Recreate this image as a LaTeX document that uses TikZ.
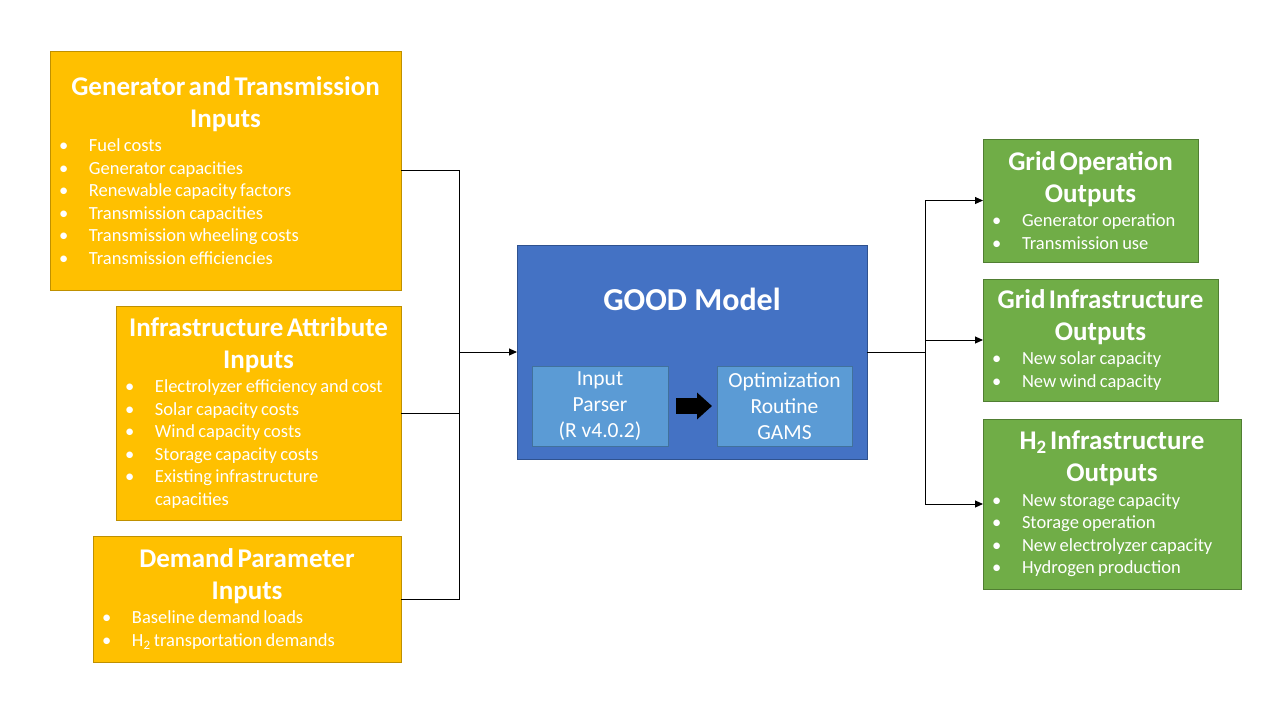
\documentclass[tikz,border=0pt]{standalone}
\usepackage{fontspec}
\setmainfont{Carlito}
\usetikzlibrary{arrows.meta,positioning}

\definecolor{inyellow}{HTML}{FFC000}
\definecolor{inborder}{HTML}{BF9000}
\definecolor{modelblue}{HTML}{4472C4}
\definecolor{modelborder}{HTML}{2F528F}
\definecolor{partblue}{HTML}{5B9BD5}
\definecolor{partborder}{HTML}{41719C}
\definecolor{outgreen}{HTML}{70AD47}
\definecolor{outborder}{HTML}{507E32}

% box heading and bullet lines
\newcommand{\boxhead}[1]{{\centering\fontsize{27}{32}\selectfont\bfseries #1\par}\vspace{2pt}}
\newcommand{\bitem}[1]{{\fontsize{18.5}{22.5}\selectfont\hangindent=30pt\hangafter=1\noindent\makebox[30pt][l]{\textbullet}#1\par}}

\begin{document}
\begin{tikzpicture}[x=1pt,y=-1pt,
    inbox/.style={draw=inborder,fill=inyellow,line width=1pt,text=white,inner xsep=9pt,inner ysep=4pt,outer sep=0pt,anchor=north west,align=left},
    outbox/.style={inbox,draw=outborder,fill=outgreen},
    partbox/.style={draw=partborder,fill=partblue,line width=1pt,text=white,outer sep=0pt,anchor=north west,align=center,font=\fontsize{21.5}{26}\selectfont},
    conn/.style={line width=1pt},
    arr/.style={conn,-{Triangle[length=8pt,width=7pt]}}]
  \useasboundingbox (0,0) rectangle (1280,720);
  % inputs
  \node[inbox,minimum width=351pt,minimum height=239pt,text width=333pt] (gen) at (50,51) {%
    \boxhead{Generator and Transmission\\Inputs}%
    \bitem{Fuel costs}\bitem{Generator capacities}\bitem{Renewable capacity factors}%
    \bitem{Transmission capacities}\bitem{Transmission wheeling costs}\bitem{Transmission efficiencies}};
  \node[inbox,minimum width=285pt,minimum height=214pt,text width=267pt] (infra) at (116,306) {%
    \boxhead{Infrastructure Attribute\\Inputs}%
    \bitem{\mbox{Electrolyzer efficiency and cost}}\bitem{Solar capacity costs}\bitem{Wind capacity costs}%
    \bitem{Storage capacity costs}\bitem{Existing infrastructure\newline capacities}};
  \node[inbox,minimum width=308pt,minimum height=126pt,text width=290pt] (demand) at (93,536) {%
    \boxhead{Demand Parameter\\Inputs}%
    \bitem{Baseline demand loads}\bitem{H\textsubscript{2} transportation demands}};
  % model
  \node[draw=modelborder,fill=modelblue,line width=1pt,outer sep=0pt,anchor=north west,minimum width=350pt,minimum height=214pt] (good) at (517,245) {};
  \node[text=white,font=\fontsize{32}{38}\selectfont\bfseries] (goodtitle) at (692,299) {GOOD Model};
  \node[partbox,minimum width=136pt,minimum height=80pt] (parser) at (532,366) {Input\\Parser\\(R v4.0.2)};
  \node[partbox,minimum width=135pt,minimum height=80pt] (optim) at (717,366) {Optimization\\Routine\\GAMS};
  \draw[line width=16pt,-{Triangle[length=15pt,width=26pt]},shorten <=8pt,shorten >=5pt] (parser) -- (optim);
  % outputs
  \node[outbox,minimum width=215pt,minimum height=123pt,text width=197pt] (gridop) at (983,139) {%
    \boxhead{Grid Operation\\Outputs}%
    \bitem{Generator operation}\bitem{Transmission use}};
  \node[outbox,minimum width=235pt,minimum height=122pt,text width=217pt] (gridinf) at (983,279) {%
    \boxhead{Grid Infrastructure\\Outputs}%
    \bitem{New solar capacity}\bitem{New wind capacity}};
  \node[outbox,minimum width=258pt,minimum height=170pt,text width=240pt] (htwo) at (983,419) {%
    \boxhead{H\textsubscript{2} Infrastructure\\Outputs}%
    \bitem{New storage capacity}\bitem{Storage operation}\bitem{New electrolyzer capacity}\bitem{Hydrogen production}};
  % connectors
  \coordinate (inbus) at (459,352);
  \coordinate (outbus) at (925,352);
  \draw[conn] (gen.east) -| (inbus);
  \draw[conn] (infra.east) -| (inbus);
  \draw[conn] (demand.east) -| (inbus);
  \draw[arr] (inbus) -- (good.west);
  \draw[conn] (good.east) -- (outbus);
  \draw[arr] (outbus) |- (gridop.west);
  \draw[arr] (outbus) |- (gridinf.west);
  \draw[arr] (outbus) |- (htwo.west);
\end{tikzpicture}
\end{document}
